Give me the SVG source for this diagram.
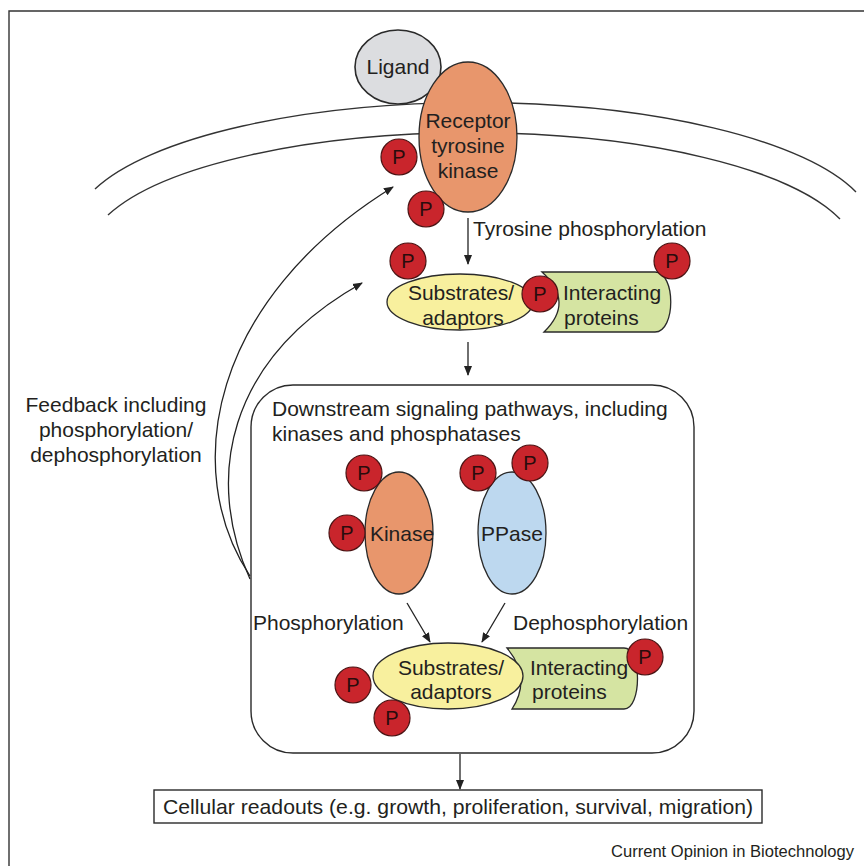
<svg xmlns="http://www.w3.org/2000/svg" width="864" height="866" viewBox="0 0 864 866">
<defs>
<marker id="ah" viewBox="0 0 10 10" refX="9" refY="5" markerWidth="10" markerHeight="10" markerUnits="userSpaceOnUse" orient="auto">
<path d="M0,1 L10,5 L0,9 Z" fill="#222"/>
</marker>
<style>
text{font-family:"Liberation Sans",Arial,sans-serif;font-size:21px;fill:#231f20}
.c{text-anchor:middle}
.ln{fill:none;stroke:#333;stroke-width:1.4}
.ar{fill:none;stroke:#222;stroke-width:1.3;marker-end:url(#ah)}
.p circle{fill:#c9252c;stroke:#4a1414;stroke-width:1.2}
.p text{text-anchor:middle;font-size:20px;fill:#2a0c0c}
.orange{fill:#e8966c;stroke:#2a2a2a;stroke-width:1.3}
.yellow{fill:#f8f09e;stroke:#2a2a2a;stroke-width:1.3}
.green{fill:#d5e4a2;stroke:#2a2a2a;stroke-width:1.3}
.blue{fill:#bdd8ef;stroke:#2a2a2a;stroke-width:1.3}
.gray{fill:#dcdde0;stroke:#2a2a2a;stroke-width:1.6}
</style>
</defs>
<rect width="864" height="866" fill="#fff"/>
<path class="ln" d="M9 866 L9 11 L864 11" stroke-width="1.6"/>
<g id="membrane">
<path class="ln" d="M95 189 A400 127 0 0 1 856 192"/>
<path class="ln" d="M108 215 A385 122 0 0 1 840 219"/>
</g>
<g id="connectors">
<path class="ar" d="M468 218 L468 264"/>
<path class="ar" d="M468 342 L468 375"/>
<path class="ar" d="M407 603 L430 642"/>
<path class="ar" d="M505 603 L482 642"/>
<path class="ar" d="M460 754 L460 789"/>
<path class="ar" d="M250 576 C180 470 210 300 393 187"/>
<path class="ar" d="M250 579 C205 480 225 360 362 283"/>
</g>
<g id="ligand">
<ellipse class="gray" cx="398" cy="67" rx="43" ry="37"/>
<text class="c" x="398" y="74">Ligand</text>
</g>
<g id="rtk">
<ellipse class="orange" cx="468" cy="137" rx="49" ry="75"/>
<text class="c" x="468" y="128">Receptor</text>
<text class="c" x="468" y="153">tyrosine</text>
<text class="c" x="468" y="178">kinase</text>
</g>
<g id="rtk-p" class="p">
<circle cx="399" cy="157" r="18"/><text x="399" y="164">P</text>
<circle cx="426" cy="209" r="18"/><text x="426" y="216">P</text>
</g>
<text id="tyr-label" x="473" y="236">Tyrosine phosphorylation</text>
<g id="interacting-top">
<path class="green" d="M542 272 L655 272 C676 272 676 332 655 332 L544 332 Q575 302 542 272 Z"/>
<text x="563" y="300">Interacting</text>
<text x="564" y="325">proteins</text>
</g>
<g id="substrates-top">
<ellipse class="yellow" cx="460" cy="302" rx="73" ry="28"/>
<text class="c" x="461" y="300">Substrates/</text>
<text class="c" x="463" y="325">adaptors</text>
</g>
<g id="substrates-top-p" class="p">
<circle cx="408" cy="261" r="18"/><text x="408" y="268">P</text>
<circle cx="540" cy="294" r="18"/><text x="540" y="301">P</text>
<circle cx="672" cy="261" r="18"/><text x="672" y="268">P</text>
</g>
<g id="feedback-label">
<text class="c" x="116" y="412">Feedback including</text>
<text class="c" x="116" y="437">phosphorylation/</text>
<text class="c" x="116" y="462">dephosphorylation</text>
</g>
<g id="downstream">
<rect x="251" y="385" width="443" height="368" rx="42" ry="42" fill="none" stroke="#2a2a2a" stroke-width="1.4"/>
<text x="272" y="416">Downstream signaling pathways, including</text>
<text x="272" y="441">kinases and phosphatases</text>
</g>
<g id="kinase">
<ellipse class="orange" cx="399" cy="533" rx="34" ry="61"/>
<text class="c" x="402" y="541">Kinase</text>
</g>
<g id="kinase-p" class="p">
<circle cx="364" cy="473" r="18"/><text x="364" y="480">P</text>
<circle cx="347" cy="533" r="18"/><text x="347" y="540">P</text>
</g>
<g id="ppase">
<ellipse class="blue" cx="512" cy="533" rx="34" ry="61"/>
<text class="c" x="512" y="541">PPase</text>
</g>
<g id="ppase-p" class="p">
<circle cx="478" cy="473" r="18"/><text x="478" y="480">P</text>
<circle cx="530" cy="463" r="18"/><text x="530" y="470">P</text>
</g>
<text id="phos-label" x="253" y="630">Phosphorylation</text>
<text id="dephos-label" x="513" y="630">Dephosphorylation</text>
<g id="interacting-bottom">
<path class="green" d="M507 648 L624 648 C642 648 642 709 624 709 L512 709 Q532 678 507 648 Z"/>
<text x="530" y="675">Interacting</text>
<text x="532" y="699">proteins</text>
</g>
<g id="substrates-bottom">
<ellipse class="yellow" cx="448" cy="676" rx="75" ry="33"/>
<text class="c" x="451" y="675">Substrates/</text>
<text class="c" x="451" y="699">adaptors</text>
</g>
<g id="substrates-bottom-p" class="p">
<circle cx="353" cy="685" r="18"/><text x="353" y="692">P</text>
<circle cx="392" cy="718" r="18"/><text x="392" y="725">P</text>
<circle cx="645" cy="657" r="18"/><text x="645" y="664">P</text>
</g>
<g id="readouts">
<rect x="154" y="790" width="608" height="33" fill="#fff" stroke="#2a2a2a" stroke-width="1.4"/>
<text x="163" y="814" textLength="590" lengthAdjust="spacingAndGlyphs">Cellular readouts (e.g. growth, proliferation, survival, migration)</text>
</g>
<text id="credit" x="854" y="857" text-anchor="end" style="font-size:16.5px" textLength="243" lengthAdjust="spacingAndGlyphs">Current Opinion in Biotechnology</text>
</svg>
